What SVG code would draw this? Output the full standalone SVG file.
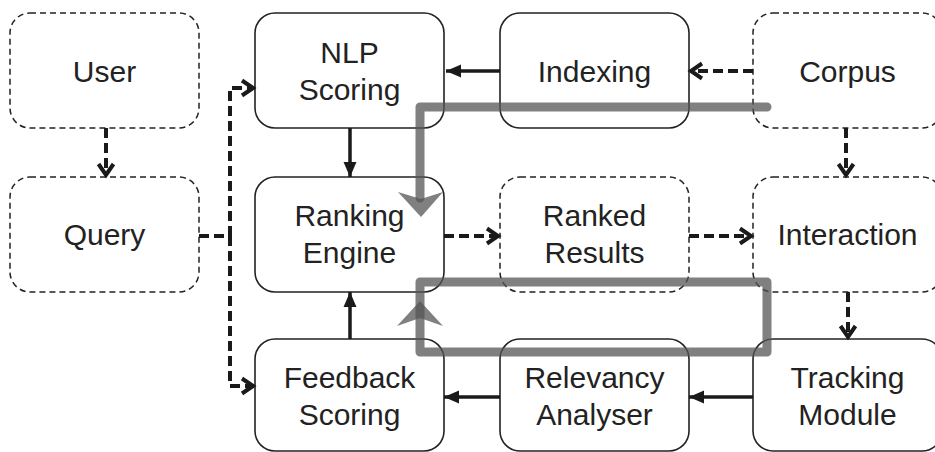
<svg xmlns="http://www.w3.org/2000/svg" width="935" height="452" viewBox="0 0 935 452">
<style>
.box{fill:#fff;stroke:#222;stroke-width:1.6}
.dbox{fill:#fff;stroke:#222;stroke-width:1.5;stroke-dasharray:6 4}
text{font-family:"Liberation Sans",Arial,sans-serif;font-size:30px;fill:#222;text-anchor:middle}
.sol{fill:none;stroke:#1a1a1a;stroke-width:3.5}
.dsh{fill:none;stroke:#1a1a1a;stroke-width:4;stroke-dasharray:10 5}
.hl{fill:none;stroke:#555;stroke-opacity:0.75;stroke-width:9;stroke-linecap:round;stroke-linejoin:round}
.hlh{fill:#555;fill-opacity:0.75;stroke:none}
</style>
<defs>
<marker id="tri" markerUnits="userSpaceOnUse" markerWidth="18" markerHeight="16" refX="15" refY="6.5" orient="auto" overflow="visible">
<path d="M0,0 L15,6.5 L0,13 Z" fill="#1a1a1a"/>
</marker>
<marker id="chev" markerUnits="userSpaceOnUse" markerWidth="16" markerHeight="16" refX="11" refY="7.5" orient="auto" overflow="visible">
<path d="M0,0 L11,7.5 L0,15" fill="none" stroke="#1a1a1a" stroke-width="4"/>
</marker>
</defs>

<g id="user"><rect class="dbox" x="10" y="13" width="189" height="115" rx="20"/><text x="104.5" y="82">User</text></g>
<g id="query"><rect class="dbox" x="10" y="177" width="189" height="115" rx="20"/><text x="104.5" y="245">Query</text></g>
<g id="nlp"><rect class="box" x="255" y="13" width="189" height="115" rx="20"/><text x="349.5" y="63">NLP</text><text x="349.5" y="100">Scoring</text></g>
<g id="ranking"><rect class="box" x="255" y="177" width="189" height="115" rx="20"/><text x="349.5" y="226">Ranking</text><text x="349.5" y="263">Engine</text></g>
<g id="feedback"><rect class="box" x="255" y="339" width="189" height="112" rx="20"/><text x="349.5" y="388">Feedback</text><text x="349.5" y="425">Scoring</text></g>
<g id="indexing"><rect class="box" x="500" y="13" width="189" height="115" rx="20"/><text x="594.5" y="82">Indexing</text></g>
<g id="ranked"><rect class="dbox" x="500" y="177" width="189" height="115" rx="20"/><text x="594.5" y="226">Ranked</text><text x="594.5" y="263">Results</text></g>
<g id="relevancy"><rect class="box" x="500" y="339" width="189" height="112" rx="20"/><text x="594.5" y="388">Relevancy</text><text x="594.5" y="425">Analyser</text></g>
<g id="corpus"><rect class="dbox" x="753" y="13" width="189" height="115" rx="20"/><text x="847.5" y="82">Corpus</text></g>
<g id="interaction"><rect class="dbox" x="753" y="177" width="189" height="115" rx="20"/><text x="847.5" y="245">Interaction</text></g>
<g id="tracking"><rect class="box" x="753" y="339" width="189" height="112" rx="20"/><text x="847.5" y="388">Tracking</text><text x="847.5" y="425">Module</text></g>

<g id="connectors">
<path class="sol" d="M500,71 H446" marker-end="url(#tri)"/>
<path class="dsh" d="M753,71 H691" marker-end="url(#chev)"/>
<path class="dsh" d="M106,128 V175" marker-end="url(#chev)"/>
<path class="dsh" d="M846,128 V175" marker-end="url(#chev)"/>
<path class="sol" d="M350,128 V177" marker-end="url(#tri)"/>
<path class="dsh" d="M199,236 H230"/>
<path class="dsh" d="M230,236 V88 H253" marker-end="url(#chev)"/>
<path class="dsh" d="M230,236 V386 H253" marker-end="url(#chev)"/>
<path class="dsh" d="M444,236 H498" marker-end="url(#chev)"/>
<path class="dsh" d="M689,236 H751" marker-end="url(#chev)"/>
<path class="dsh" d="M848,292 V337" marker-end="url(#chev)"/>
<path class="sol" d="M753,397 H689" marker-end="url(#tri)"/>
<path class="sol" d="M500,397 H444" marker-end="url(#tri)"/>
<path class="sol" d="M350,339 V292" marker-end="url(#tri)"/>
</g>

<g id="highlights">
<path class="hl" d="M767,107 H420 V198"/>
<polygon class="hlh" points="398,192 421,217 443,192 421,199"/>
<path class="hl" d="M420,282 H767 V352 H420 Z"/>
<polygon class="hlh" points="420,301 443,326 420,318 397,326"/>
</g>
</svg>
